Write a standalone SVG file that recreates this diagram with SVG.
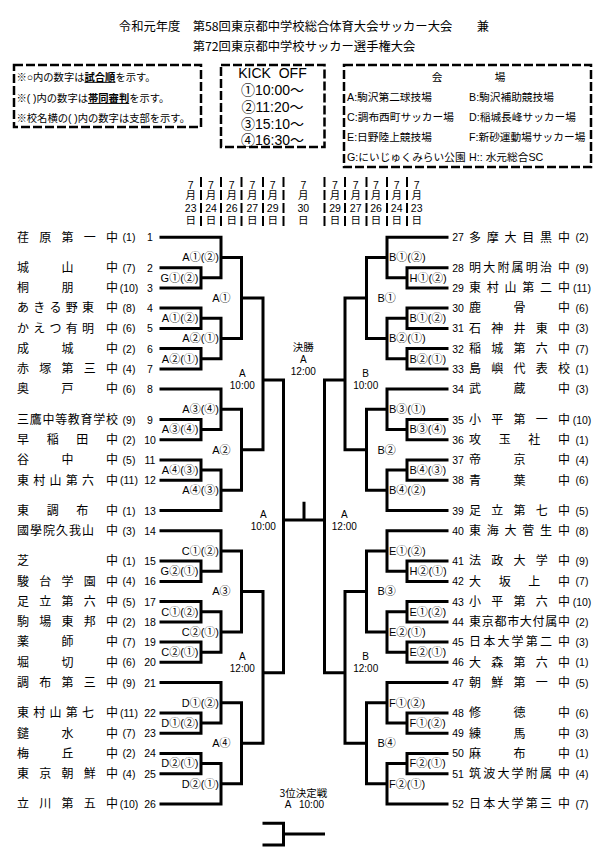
<svg xmlns="http://www.w3.org/2000/svg" xmlns:xlink="http://www.w3.org/1999/xlink" width="601" height="867" viewBox="0 0 601 867">
<style>
.ln{fill:none;stroke:#000;stroke-width:3;stroke-linejoin:miter}
.box{fill:none;stroke:#000;stroke-width:2.5;stroke-dasharray:9 3}
.dl{stroke:#000;stroke-width:2;stroke-dasharray:10 3}
text{fill:#000}
.ti{font-family:"Noto Sans CJK JP",sans-serif;font-size:12.3px;text-anchor:middle}
.bx{font-family:"Liberation Sans","Noto Sans CJK JP",sans-serif;font-size:10.3px}
.ko{font-family:"Liberation Sans","Noto Sans CJK JP",sans-serif;font-size:14px;text-anchor:middle}
.vn{font-family:"Liberation Sans","Noto Sans CJK JP",sans-serif;font-size:10.7px}
.dt{font-family:"Liberation Sans","Noto Sans CJK JP",sans-serif;font-size:10.5px;text-anchor:middle}
.nm{font-family:"Noto Sans CJK JP",sans-serif;font-size:12px;text-anchor:middle}
.br{font-family:"Liberation Sans",sans-serif;font-size:10.5px;text-anchor:middle}
.no{font-family:"Liberation Sans",sans-serif;font-size:10.5px;text-anchor:middle}
.lb{font-family:"Liberation Sans","Noto Sans CJK JP",sans-serif;font-size:11px}
.le{text-anchor:end}
.rs{text-anchor:start}
.rd{font-family:"Liberation Sans","Noto Sans CJK JP",sans-serif;font-size:10px;text-anchor:middle}
.fn{font-family:"Noto Sans CJK JP",sans-serif;font-size:10.5px;text-anchor:middle}
</style>

<g id="title">
<text class="ti" x="304" y="31">令和元年度　第58回東京都中学校総合体育大会サッカー大会　　兼</text>
<text class="ti" x="304" y="51">第72回東京都中学校サッカー選手権大会</text>
</g>

<g id="legend">
<rect class="box" x="14" y="65" width="187" height="62"/>
<text class="bx" x="16.5" y="80.8">※○内の数字は<tspan font-weight="bold" text-decoration="underline">試合順</tspan>を示す。</text>
<text class="bx" x="16.5" y="101.9">※( )内の数字は<tspan font-weight="bold" text-decoration="underline">帯同審判</tspan>を示す。</text>
<text class="bx" x="16.5" y="121.9">※校名横の( )内の数字は支部を示す。</text>
</g>

<g id="kickoff">
<rect class="box" x="221" y="65" width="103.5" height="82"/>
<text class="ko" x="272.5" y="78">KICK&#160; OFF</text>
<text class="ko" x="272.5" y="95">①10:00～</text>
<text class="ko" x="272.5" y="112">②11:20～</text>
<text class="ko" x="272.5" y="129">③15:10～</text>
<text class="ko" x="272.5" y="145">④16:30～</text>
</g>

<g id="venues">
<rect class="box" x="344" y="65" width="247" height="102"/>
<text class="vn" x="437 500" y="81" text-anchor="middle">会場</text>
<text class="vn" x="347" y="101">A:駒沢第二球技場</text>
<text class="vn" x="469" y="101">B:駒沢補助競技場</text>
<text class="vn" x="347" y="121">C:調布西町サッカー場</text>
<text class="vn" x="469" y="121">D:稲城長峰サッカー場</text>
<text class="vn" x="347" y="141">E:日野陸上競技場</text>
<text class="vn" x="469" y="141">F:新砂運動場サッカー場</text>
<text class="vn" x="347" y="161">G:にいじゅくみらい公園</text>
<text class="vn" x="469" y="161">H:: 水元総合SC</text>
</g>

<g id="dates">
<path class="dl" d="M201 177V228M221 177V228M241.5 177V228M263 177V228M283.5 177V228M324.5 177V228M345 177V228M366.5 177V228M387 177V228M407 177V228"/>
<g class="dt">
<text x="190.7" y="188.5">7</text><text x="190.7" y="199">月</text><text x="190.7" y="212">23</text><text x="190.7" y="224">日</text>
<text x="211" y="188.5">7</text><text x="211" y="199">月</text><text x="211" y="212">24</text><text x="211" y="224">日</text>
<text x="231.7" y="188.5">7</text><text x="231.7" y="199">月</text><text x="231.7" y="212">26</text><text x="231.7" y="224">日</text>
<text x="252.3" y="188.5">7</text><text x="252.3" y="199">月</text><text x="252.3" y="212">27</text><text x="252.3" y="224">日</text>
<text x="272.7" y="188.5">7</text><text x="272.7" y="199">月</text><text x="272.7" y="212">29</text><text x="272.7" y="224">日</text>
<text x="303.3" y="188.5">7</text><text x="303.3" y="199">月</text><text x="303.3" y="212">30</text><text x="303.3" y="224">日</text>
<text x="335" y="188.5">7</text><text x="335" y="199">月</text><text x="335" y="212">29</text><text x="335" y="224">日</text>
<text x="355.7" y="188.5">7</text><text x="355.7" y="199">月</text><text x="355.7" y="212">27</text><text x="355.7" y="224">日</text>
<text x="376" y="188.5">7</text><text x="376" y="199">月</text><text x="376" y="212">26</text><text x="376" y="224">日</text>
<text x="396.7" y="188.5">7</text><text x="396.7" y="199">月</text><text x="396.7" y="212">24</text><text x="396.7" y="224">日</text>
<text x="416.7" y="188.5">7</text><text x="416.7" y="199">月</text><text x="416.7" y="212">23</text><text x="416.7" y="224">日</text>
</g>
</g>

<g id="connectors" class="ln">
<g id="left-lines">
<path class="ln" d="M159.5 267.7H201V287.9H159.5M159.5 308.1H201V328.4H159.5M159.5 348.6H201V368.9H159.5M159.5 419.5H201V439.7H159.5M159.5 460H201V480.2H159.5M159.5 561.1H201V581.4H159.5M159.5 601.6H201V621.9H159.5M159.5 642.1H201V662.3H159.5M159.5 713H201V733.2H159.5M159.5 753.4H201V773.7H159.5"/>
<path class="ln" d="M159.5 237.3H221V277.8H201M201 318.25H221V358.75H201M159.5 389.1H221V429.6H201M201 470.1H221V510.5H159.5M159.5 530.8H221V571.25H201M201 611.75H221V652.2H201M159.5 682.6H221V723.1H201M201 763.55H221V804H159.5"/>
<path class="ln" d="M221 257.55H241.5V338.5H221M221 409.35H241.5V490.3H221M221 551H241.5V632H221M221 702.85H241.5V783.8H221"/>
<path class="ln" d="M241.5 298H263V449.8H241.5M241.5 591.5H263V743.3H241.5"/>
<path class="ln" d="M263 380H283.5V672.7H263"/>
</g>
<use xlink:href="#left-lines" transform="translate(608 0) scale(-1 1)"/>
<path class="ln" d="M283.5 520H324.5M304 520V501.7"/>
<path class="ln" d="M262.5 823.3H283.5V845H262.5M283.5 834H325"/>
</g>

<g id="left-teams">
<g id="t1" transform="translate(0,237.3)"><text class="nm" x="23 45.25 67.5 89.75 112" y="4.3">荏原第一中</text><text class="br" x="129" y="4">(1)</text><text class="no" x="150" y="4">1</text></g>
<g id="t2" transform="translate(0,267.7)"><text class="nm" x="23 67.5 112" y="4.3">城山中</text><text class="br" x="129" y="4">(7)</text><text class="no" x="150" y="4">2</text></g>
<g id="t3" transform="translate(0,287.9)"><text class="nm" x="23 67.5 112" y="4.3">桐朋中</text><text class="br" x="129" y="4">(10)</text><text class="no" x="150" y="4">3</text></g>
<g id="t4" transform="translate(0,308.1)"><text class="nm" x="23 39.25 55.5 71.75 88 112" y="4.3">あきる野東中</text><text class="br" x="129" y="4">(8)</text><text class="no" x="150" y="4">4</text></g>
<g id="t5" transform="translate(0,328.4)"><text class="nm" x="23 39.25 55.5 71.75 88 112" y="4.3">かえつ有明中</text><text class="br" x="129" y="4">(6)</text><text class="no" x="150" y="4">5</text></g>
<g id="t6" transform="translate(0,348.6)"><text class="nm" x="23 67.5 112" y="4.3">成城中</text><text class="br" x="129" y="4">(2)</text><text class="no" x="150" y="4">6</text></g>
<g id="t7" transform="translate(0,368.9)"><text class="nm" x="23 45.25 67.5 89.75 112" y="4.3">赤塚第三中</text><text class="br" x="129" y="4">(4)</text><text class="no" x="150" y="4">7</text></g>
<g id="t8" transform="translate(0,389.1)"><text class="nm" x="23 67.5 112" y="4.3">奥戸中</text><text class="br" x="129" y="4">(6)</text><text class="no" x="150" y="4">8</text></g>
<g id="t9" transform="translate(0,419.5)"><text class="nm" x="23 35.71 48.43 61.14 73.86 86.57 99.29 112" y="4.3">三鷹中等教育学校</text><text class="br" x="129" y="4">(9)</text><text class="no" x="150" y="4">9</text></g>
<g id="t10" transform="translate(0,439.7)"><text class="nm" x="23 52.67 82.33 112" y="4.3">早稲田中</text><text class="br" x="129" y="4">(2)</text><text class="no" x="150" y="4">10</text></g>
<g id="t11" transform="translate(0,460)"><text class="nm" x="23 67.5 112" y="4.3">谷中中</text><text class="br" x="129" y="4">(5)</text><text class="no" x="150" y="4">11</text></g>
<g id="t12" transform="translate(0,480.2)"><text class="nm" x="23 39.25 55.5 71.75 88 112" y="4.3">東村山第六中</text><text class="br" x="129" y="4">(11)</text><text class="no" x="150" y="4">12</text></g>
<g id="t13" transform="translate(0,510.5)"><text class="nm" x="23 52.67 82.33 112" y="4.3">東調布中</text><text class="br" x="129" y="4">(1)</text><text class="no" x="150" y="4">13</text></g>
<g id="t14" transform="translate(0,530.8)"><text class="nm" x="23 36 49 62 75 88 112" y="4.3">國學院久我山中</text><text class="br" x="129" y="4">(3)</text><text class="no" x="150" y="4">14</text></g>
<g id="t15" transform="translate(0,561.1)"><text class="nm" x="23 112" y="4.3">芝中</text><text class="br" x="129" y="4">(1)</text><text class="no" x="150" y="4">15</text></g>
<g id="t16" transform="translate(0,581.4)"><text class="nm" x="23 45.25 67.5 89.75 112" y="4.3">駿台学園中</text><text class="br" x="129" y="4">(4)</text><text class="no" x="150" y="4">16</text></g>
<g id="t17" transform="translate(0,601.6)"><text class="nm" x="23 45.25 67.5 89.75 112" y="4.3">足立第六中</text><text class="br" x="129" y="4">(5)</text><text class="no" x="150" y="4">17</text></g>
<g id="t18" transform="translate(0,621.9)"><text class="nm" x="23 45.25 67.5 89.75 112" y="4.3">駒場東邦中</text><text class="br" x="129" y="4">(2)</text><text class="no" x="150" y="4">18</text></g>
<g id="t19" transform="translate(0,642.1)"><text class="nm" x="23 67.5 112" y="4.3">薬師中</text><text class="br" x="129" y="4">(7)</text><text class="no" x="150" y="4">19</text></g>
<g id="t20" transform="translate(0,662.3)"><text class="nm" x="23 67.5 112" y="4.3">堀切中</text><text class="br" x="129" y="4">(6)</text><text class="no" x="150" y="4">20</text></g>
<g id="t21" transform="translate(0,682.6)"><text class="nm" x="23 45.25 67.5 89.75 112" y="4.3">調布第三中</text><text class="br" x="129" y="4">(9)</text><text class="no" x="150" y="4">21</text></g>
<g id="t22" transform="translate(0,713)"><text class="nm" x="23 39.25 55.5 71.75 88 112" y="4.3">東村山第七中</text><text class="br" x="129" y="4">(11)</text><text class="no" x="150" y="4">22</text></g>
<g id="t23" transform="translate(0,733.2)"><text class="nm" x="23 67.5 112" y="4.3">鑓水中</text><text class="br" x="129" y="4">(7)</text><text class="no" x="150" y="4">23</text></g>
<g id="t24" transform="translate(0,753.4)"><text class="nm" x="23 67.5 112" y="4.3">梅丘中</text><text class="br" x="129" y="4">(2)</text><text class="no" x="150" y="4">24</text></g>
<g id="t25" transform="translate(0,773.7)"><text class="nm" x="23 45.25 67.5 89.75 112" y="4.3">東京朝鮮中</text><text class="br" x="129" y="4">(4)</text><text class="no" x="150" y="4">25</text></g>
<g id="t26" transform="translate(0,804)"><text class="nm" x="23 45.25 67.5 89.75 112" y="4.3">立川第五中</text><text class="br" x="129" y="4">(10)</text><text class="no" x="150" y="4">26</text></g>
</g>

<g id="right-teams">
<g id="t27" transform="translate(0,237.3)"><text class="no" x="458" y="4">27</text><text class="nm" x="475 492.75 510.5 528.25 546 564" y="4.3">多摩大目黒中</text><text class="br" x="582" y="4">(2)</text></g>
<g id="t28" transform="translate(0,267.7)"><text class="no" x="458" y="4">28</text><text class="nm" x="475 489.2 503.4 517.6 531.8 546 564" y="4.3">明大附属明治中</text><text class="br" x="582" y="4">(9)</text></g>
<g id="t29" transform="translate(0,287.9)"><text class="no" x="458" y="4">29</text><text class="nm" x="475 492.75 510.5 528.25 546 564" y="4.3">東村山第二中</text><text class="br" x="582" y="4">(11)</text></g>
<g id="t30" transform="translate(0,308.1)"><text class="no" x="458" y="4">30</text><text class="nm" x="475 519.5 564" y="4.3">鹿骨中</text><text class="br" x="582" y="4">(6)</text></g>
<g id="t31" transform="translate(0,328.4)"><text class="no" x="458" y="4">31</text><text class="nm" x="475 497.25 519.5 541.75 564" y="4.3">石神井東中</text><text class="br" x="582" y="4">(3)</text></g>
<g id="t32" transform="translate(0,348.6)"><text class="no" x="458" y="4">32</text><text class="nm" x="475 497.25 519.5 541.75 564" y="4.3">稲城第六中</text><text class="br" x="582" y="4">(7)</text></g>
<g id="t33" transform="translate(0,368.9)"><text class="no" x="458" y="4">33</text><text class="nm" x="475 497.25 519.5 541.75 564" y="4.3">島嶼代表校</text><text class="br" x="582" y="4">(1)</text></g>
<g id="t34" transform="translate(0,389.1)"><text class="no" x="458" y="4">34</text><text class="nm" x="475 519.5 564" y="4.3">武蔵中</text><text class="br" x="582" y="4">(3)</text></g>
<g id="t35" transform="translate(0,419.5)"><text class="no" x="458" y="4">35</text><text class="nm" x="475 497.25 519.5 541.75 564" y="4.3">小平第一中</text><text class="br" x="582" y="4">(10)</text></g>
<g id="t36" transform="translate(0,439.7)"><text class="no" x="458" y="4">36</text><text class="nm" x="475 504.67 534.33 564" y="4.3">攻玉社中</text><text class="br" x="582" y="4">(1)</text></g>
<g id="t37" transform="translate(0,460)"><text class="no" x="458" y="4">37</text><text class="nm" x="475 519.5 564" y="4.3">帝京中</text><text class="br" x="582" y="4">(4)</text></g>
<g id="t38" transform="translate(0,480.2)"><text class="no" x="458" y="4">38</text><text class="nm" x="475 519.5 564" y="4.3">青葉中</text><text class="br" x="582" y="4">(6)</text></g>
<g id="t39" transform="translate(0,510.5)"><text class="no" x="458" y="4">39</text><text class="nm" x="475 497.25 519.5 541.75 564" y="4.3">足立第七中</text><text class="br" x="582" y="4">(5)</text></g>
<g id="t40" transform="translate(0,530.8)"><text class="no" x="458" y="4">40</text><text class="nm" x="475 492.75 510.5 528.25 546 564" y="4.3">東海大菅生中</text><text class="br" x="582" y="4">(8)</text></g>
<g id="t41" transform="translate(0,561.1)"><text class="no" x="458" y="4">41</text><text class="nm" x="475 497.25 519.5 541.75 564" y="4.3">法政大学中</text><text class="br" x="582" y="4">(9)</text></g>
<g id="t42" transform="translate(0,581.4)"><text class="no" x="458" y="4">42</text><text class="nm" x="475 504.67 534.33 564" y="4.3">大坂上中</text><text class="br" x="582" y="4">(7)</text></g>
<g id="t43" transform="translate(0,601.6)"><text class="no" x="458" y="4">43</text><text class="nm" x="475 497.25 519.5 541.75 564" y="4.3">小平第六中</text><text class="br" x="582" y="4">(10)</text></g>
<g id="t44" transform="translate(0,621.9)"><text class="no" x="458" y="4">44</text><text class="nm" x="475 487.71 500.43 513.14 525.86 538.57 551.29 564" y="4.3">東京都市大付属中</text><text class="br" x="582" y="4">(2)</text></g>
<g id="t45" transform="translate(0,642.1)"><text class="no" x="458" y="4">45</text><text class="nm" x="475 489.2 503.4 517.6 531.8 546 564" y="4.3">日本大学第二中</text><text class="br" x="582" y="4">(3)</text></g>
<g id="t46" transform="translate(0,662.3)"><text class="no" x="458" y="4">46</text><text class="nm" x="475 497.25 519.5 541.75 564" y="4.3">大森第六中</text><text class="br" x="582" y="4">(1)</text></g>
<g id="t47" transform="translate(0,682.6)"><text class="no" x="458" y="4">47</text><text class="nm" x="475 497.25 519.5 541.75 564" y="4.3">朝鮮第一中</text><text class="br" x="582" y="4">(5)</text></g>
<g id="t48" transform="translate(0,713)"><text class="no" x="458" y="4">48</text><text class="nm" x="475 519.5 564" y="4.3">修徳中</text><text class="br" x="582" y="4">(6)</text></g>
<g id="t49" transform="translate(0,733.2)"><text class="no" x="458" y="4">49</text><text class="nm" x="475 519.5 564" y="4.3">練馬中</text><text class="br" x="582" y="4">(3)</text></g>
<g id="t50" transform="translate(0,753.4)"><text class="no" x="458" y="4">50</text><text class="nm" x="475 519.5 564" y="4.3">麻布中</text><text class="br" x="582" y="4">(1)</text></g>
<g id="t51" transform="translate(0,773.7)"><text class="no" x="458" y="4">51</text><text class="nm" x="475 489.2 503.4 517.6 531.8 546 564" y="4.3">筑波大学附属中</text><text class="br" x="582" y="4">(4)</text></g>
<g id="t52" transform="translate(0,804)"><text class="no" x="458" y="4">52</text><text class="nm" x="475 489.2 503.4 517.6 531.8 546 564" y="4.3">日本大学第三中</text><text class="br" x="582" y="4">(7)</text></g>
</g>

<g id="match-labels-left" class="lb le">
<text x="198.5" y="281.6">G①(②)</text>
<text x="198.5" y="322">A①(②)</text>
<text x="198.5" y="362.5">A②(①)</text>
<text x="198.5" y="433.4">A③(④)</text>
<text x="198.5" y="473.9">A④(③)</text>
<text x="198.5" y="575">G②(①)</text>
<text x="198.5" y="615.5">C①(②)</text>
<text x="198.5" y="656">C②(①)</text>
<text x="198.5" y="726.9">D①(②)</text>
<text x="198.5" y="767.3">D②(①)</text>
<text x="219" y="261.3">A①(②)</text>
<text x="219" y="342.3">A②(①)</text>
<text x="219" y="413.1">A③(④)</text>
<text x="219" y="494.1">A④(③)</text>
<text x="219" y="554.8">C①(②)</text>
<text x="219" y="635.8">C②(①)</text>
<text x="219" y="706.6">D①(②)</text>
<text x="219" y="787.6">D②(①)</text>
<text x="230.5" y="301.8">A①</text>
<text x="230.5" y="453.6">A②</text>
<text x="230.5" y="595.3">A③</text>
<text x="230.5" y="747.1">A④</text>
</g>

<g id="match-labels-right" class="lb rs">
<text x="409.5" y="281.6">H①(②)</text>
<text x="409.5" y="322">B①(②)</text>
<text x="409.5" y="362.5">B②(①)</text>
<text x="409.5" y="433.4">B③(④)</text>
<text x="409.5" y="473.9">B④(③)</text>
<text x="409.5" y="575">H②(①)</text>
<text x="409.5" y="615.5">E①(②)</text>
<text x="409.5" y="656">E②(①)</text>
<text x="409.5" y="726.9">F①(②)</text>
<text x="409.5" y="767.3">F②(①)</text>
<text x="389" y="261.3">B①(②)</text>
<text x="389" y="342.3">B②(①)</text>
<text x="389" y="413.1">B③(①)</text>
<text x="389" y="494.1">B④(②)</text>
<text x="389" y="554.8">E①(②)</text>
<text x="389" y="635.8">E②(①)</text>
<text x="389" y="706.6">F①(②)</text>
<text x="389" y="787.6">F②(①)</text>
<text x="377.5" y="301.8">B①</text>
<text x="377.5" y="453.6">B②</text>
<text x="377.5" y="595.3">B③</text>
<text x="377.5" y="747.1">B④</text>
</g>

<g id="round-labels" class="rd">
<text x="242.3" y="376.8">A</text><text x="242.3" y="388.5">10:00</text>
<text x="365.7" y="376.8">B</text><text x="365.7" y="388.5">10:00</text>
<text x="242.3" y="660.1">A</text><text x="242.3" y="671.7">12:00</text>
<text x="365.7" y="660.1">B</text><text x="365.7" y="671.7">12:00</text>
<text x="263.3" y="518.4">A</text><text x="263.3" y="530.1">10:00</text>
<text x="344.3" y="518.4">A</text><text x="344.3" y="530.1">12:00</text>
</g>

<g id="final">
<text class="fn" x="303.3" y="351.3">決勝</text>
<text class="rd" x="303.3" y="362.7">A</text>
<text class="rd" x="303.3" y="375.1">12:00</text>
</g>

<g id="third-place">
<text class="fn" x="303.3" y="797.3">3位決定戦</text>
<text class="rd" x="288" y="808.4">A</text>
<text class="rd" x="311.5" y="808.4">10:00</text>
</g>
</svg>
